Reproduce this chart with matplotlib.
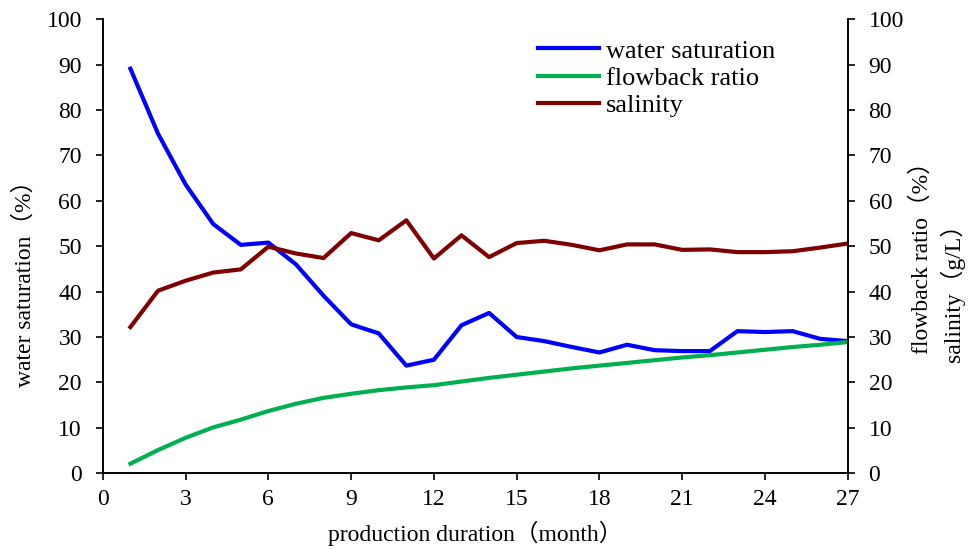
import matplotlib.pyplot as plt
import numpy as np

months = np.arange(1, 28)
water_saturation = [89.1, 74.8, 63.6, 54.9, 50.3, 50.8, 46.0, 39.1, 32.8, 30.8,
                    23.7, 25.0, 32.6, 35.3, 30.0, 29.1, 27.8, 26.6, 28.3, 27.1,
                    26.9, 26.9, 31.3, 31.1, 31.3, 29.6, 29.1]
flowback_ratio = [2.1, 5.1, 7.8, 10.1, 11.8, 13.7, 15.3, 16.6, 17.5, 18.3,
                  18.9, 19.4, 20.2, 21.0, 21.7, 22.4, 23.1, 23.7, 24.3, 24.9,
                  25.5, 26.0, 26.6, 27.2, 27.8, 28.3, 28.9]
salinity = [32.2, 40.2, 42.4, 44.2, 44.9, 49.9, 48.4, 47.4, 52.9, 51.3,
            55.7, 47.3, 52.4, 47.6, 50.7, 51.2, 50.3, 49.1, 50.4, 50.4,
            49.2, 49.3, 48.7, 48.7, 48.9, 49.7, 50.6]

fam = ['Liberation Serif', 'Noto Sans CJK SC']
plt.rcParams['font.family'] = fam
plt.rcParams['font.size'] = 17

W, H = 970, 549
fig = plt.figure(figsize=(9.7, 5.49), dpi=100)
ax = fig.add_axes([0.106, 0.138, 0.768, 0.827])
ax2 = ax.twinx()

l1, = ax.plot(months, water_saturation, color='#0000FF', lw=3, label='water saturation')
l2, = ax2.plot(months, flowback_ratio, color='#00B050', lw=3, label='flowback ratio')
l3, = ax2.plot(months, salinity, color='#7F0000', lw=3, label='salinity')

for a in (ax, ax2):
    a.set_ylim(0, 100)
    a.set_yticks(np.arange(0, 101, 10))
    a.set_xlim(0, 27)
    a.tick_params(axis='y', direction='out', length=5, width=1.2, labelsize=17, pad=10)
    a.tick_params(axis='x', direction='out', length=5, width=1.2, labelsize=17, pad=6)
    for s in a.spines.values():
        s.set_linewidth(1.2)
    a.spines['top'].set_visible(False)
ax.set_xticks(np.arange(0, 28, 3))

# axis titles placed by hand to follow the reference
fig.text(25 / W, 1 - 278 / H, 'water saturation（%）', rotation=90,
         ha='center', va='center', fontsize=17)
fig.text(922 / W, 1 - 252 / H, 'flowback ratio（%）', rotation=90,
         ha='center', va='center', fontsize=17)
fig.text(952 / W, 1 - 287 / H, 'salinity（g/L）', rotation=90,
         ha='center', va='center', fontsize=17)
ax.set_xlabel('production duration（month）', fontsize=17, labelpad=8)

ax.legend(handles=[l1, l2, l3], loc='upper left', bbox_to_anchor=(0.567, 0.985),
          frameon=False, fontsize=19, handlelength=2.3, handletextpad=0.25,
          labelspacing=0.14, borderpad=0.0)

fig.savefig('out.png', dpi=100)
